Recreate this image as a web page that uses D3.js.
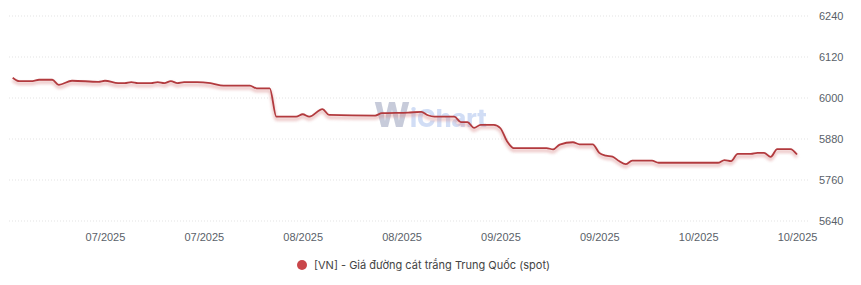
<!DOCTYPE html>
<html>
<head>
<meta charset="utf-8">
<script src="https://cdn.jsdelivr.net/npm/d3@7"></script>
<style>
  body { margin: 0; background: #fff; }
  svg { display: block; font-family: Inter, "Noto Sans", sans-serif; }
  .axis text { fill: #5a5f69; font-size: 11px; }
  .grid line { stroke: #e3e3e3; stroke-dasharray: 1,2; }
</style>
</head>
<body>
<div id="chart"></div>
<script>
// data
var dates = [
  "2025-06-19", "2025-06-20", "2025-06-22", "2025-06-23", "2025-06-25", "2025-06-26",
  "2025-06-28", "2025-07-02", "2025-07-03", "2025-07-05", "2025-07-06", "2025-07-07",
  "2025-07-08", "2025-07-10", "2025-07-11", "2025-07-12", "2025-07-13", "2025-07-14",
  "2025-07-15", "2025-07-17", "2025-07-19", "2025-07-21", "2025-07-25", "2025-07-26",
  "2025-07-28", "2025-07-29", "2025-08-01", "2025-08-02", "2025-08-03", "2025-08-05",
  "2025-08-06", "2025-08-13", "2025-08-14", "2025-08-18", "2025-08-20", "2025-08-21",
  "2025-08-22", "2025-08-25", "2025-08-26", "2025-08-27", "2025-08-28", "2025-08-29",
  "2025-08-31", "2025-09-01", "2025-09-02", "2025-09-03", "2025-09-08", "2025-09-09",
  "2025-09-10", "2025-09-12", "2025-09-13", "2025-09-15", "2025-09-16", "2025-09-17",
  "2025-09-18", "2025-09-19", "2025-09-20", "2025-09-21", "2025-09-24", "2025-09-25",
  "2025-10-04", "2025-10-05", "2025-10-06", "2025-10-07", "2025-10-09", "2025-10-10",
  "2025-10-11", "2025-10-12", "2025-10-13", "2025-10-15", "2025-10-16"
];
var prices = [
  6058, 6048, 6048, 6052, 6052, 6037,
  6049, 6046, 6049, 6042, 6042, 6045,
  6042, 6042, 6045, 6042, 6048, 6042,
  6045, 6045, 6042, 6035, 6035, 6027,
  6027, 5944, 5944, 5951, 5944, 5966,
  5949, 5947, 5954, 5956, 5958, 5948,
  5944, 5944, 5928, 5928, 5911, 5920,
  5920, 5910, 5872, 5852, 5852, 5848,
  5862, 5869, 5863, 5863, 5838, 5830,
  5827, 5814, 5805, 5815, 5815, 5809,
  5809, 5817, 5814, 5835, 5835, 5838,
  5838, 5826, 5849, 5849, 5833
];
var yTicks = [5640, 5760, 5880, 6000, 6120, 6240];
var xTickDates = ["2025-07-03", "2025-07-18", "2025-08-02", "2025-08-17",
                  "2025-09-01", "2025-09-16", "2025-10-01", "2025-10-16"];
var seriesName = "[VN] - Giá đường cát trắng Trung Quốc (spot)";

var W = 861, H = 285;
var parse = d3.timeParse("%Y-%m-%d");

var data = dates.map(function (d, i) {
  return { date: parse(d), value: prices[i] };
});

var xScale = d3.scaleTime()
  .domain([parse("2025-06-19"), parse("2025-10-16")])
  .range([12.7, 797]);

var yScale = d3.scaleLinear()
  .domain([5640, 6240])
  .range([220.5, 15.5]);

var svg = d3.select("#chart").append("svg")
  .attr("width", W)
  .attr("height", H);

var defs = svg.append("defs");
defs.append("filter").attr("id", "blur")
  .attr("x", "-5%").attr("y", "-50%").attr("width", "110%").attr("height", "200%")
  .append("feGaussianBlur").attr("stdDeviation", 1.4);

// grid + right labels
var yAxis = d3.axisRight(yScale)
  .tickValues(yTicks)
  .tickSize(-800)
  .tickPadding(11)
  .tickFormat(d3.format("d"));

svg.append("g")
  .attr("class", "axis grid")
  .attr("transform", "translate(808,0)")
  .call(yAxis)
  .call(function (g) { g.select(".domain").remove(); });

// x axis labels
var xAxis = d3.axisBottom(xScale)
  .tickValues(xTickDates.map(parse))
  .tickSize(0)
  .tickPadding(0)
  .tickFormat(d3.timeFormat("%m/%Y"));

svg.append("g")
  .attr("class", "axis")
  .attr("transform", "translate(0,233)")
  .call(xAxis)
  .call(function (g) { g.select(".domain").remove(); });

// watermark
var wm = svg.append("text")
  .attr("x", 374)
  .attr("y", 127)
  .style("font-weight", "800")
  .style("opacity", 0.6);
wm.append("tspan").attr("fill", "#a3aac2").style("font-size", "34px").text("W");
wm.append("tspan").attr("fill", "#b3c8f0").style("font-size", "25px").text("iChart");

var line = d3.line()
  .x(function (d) { return xScale(d.date); })
  .y(function (d) { return yScale(d.value); })
  .curve(d3.curveMonotoneX);

// soft shadow under the line
svg.append("path")
  .datum(data)
  .attr("d", line)
  .attr("transform", "translate(0,2.5)")
  .attr("fill", "none")
  .attr("stroke", "#d98c8c")
  .attr("stroke-width", 3)
  .attr("opacity", 0.55)
  .attr("filter", "url(#blur)");

svg.append("path")
  .datum(data)
  .attr("d", line)
  .attr("fill", "none")
  .attr("stroke", "#b23a3e")
  .attr("stroke-width", 1.8);

// legend
svg.append("circle")
  .attr("cx", 302)
  .attr("cy", 265)
  .attr("r", 5)
  .attr("fill", "#c9464a");

svg.append("text")
  .attr("x", 314)
  .attr("y", 269)
  .style("font-size", "11px")
  .style("fill", "#444")
  .text(seriesName);
</script>
</body>
</html>
